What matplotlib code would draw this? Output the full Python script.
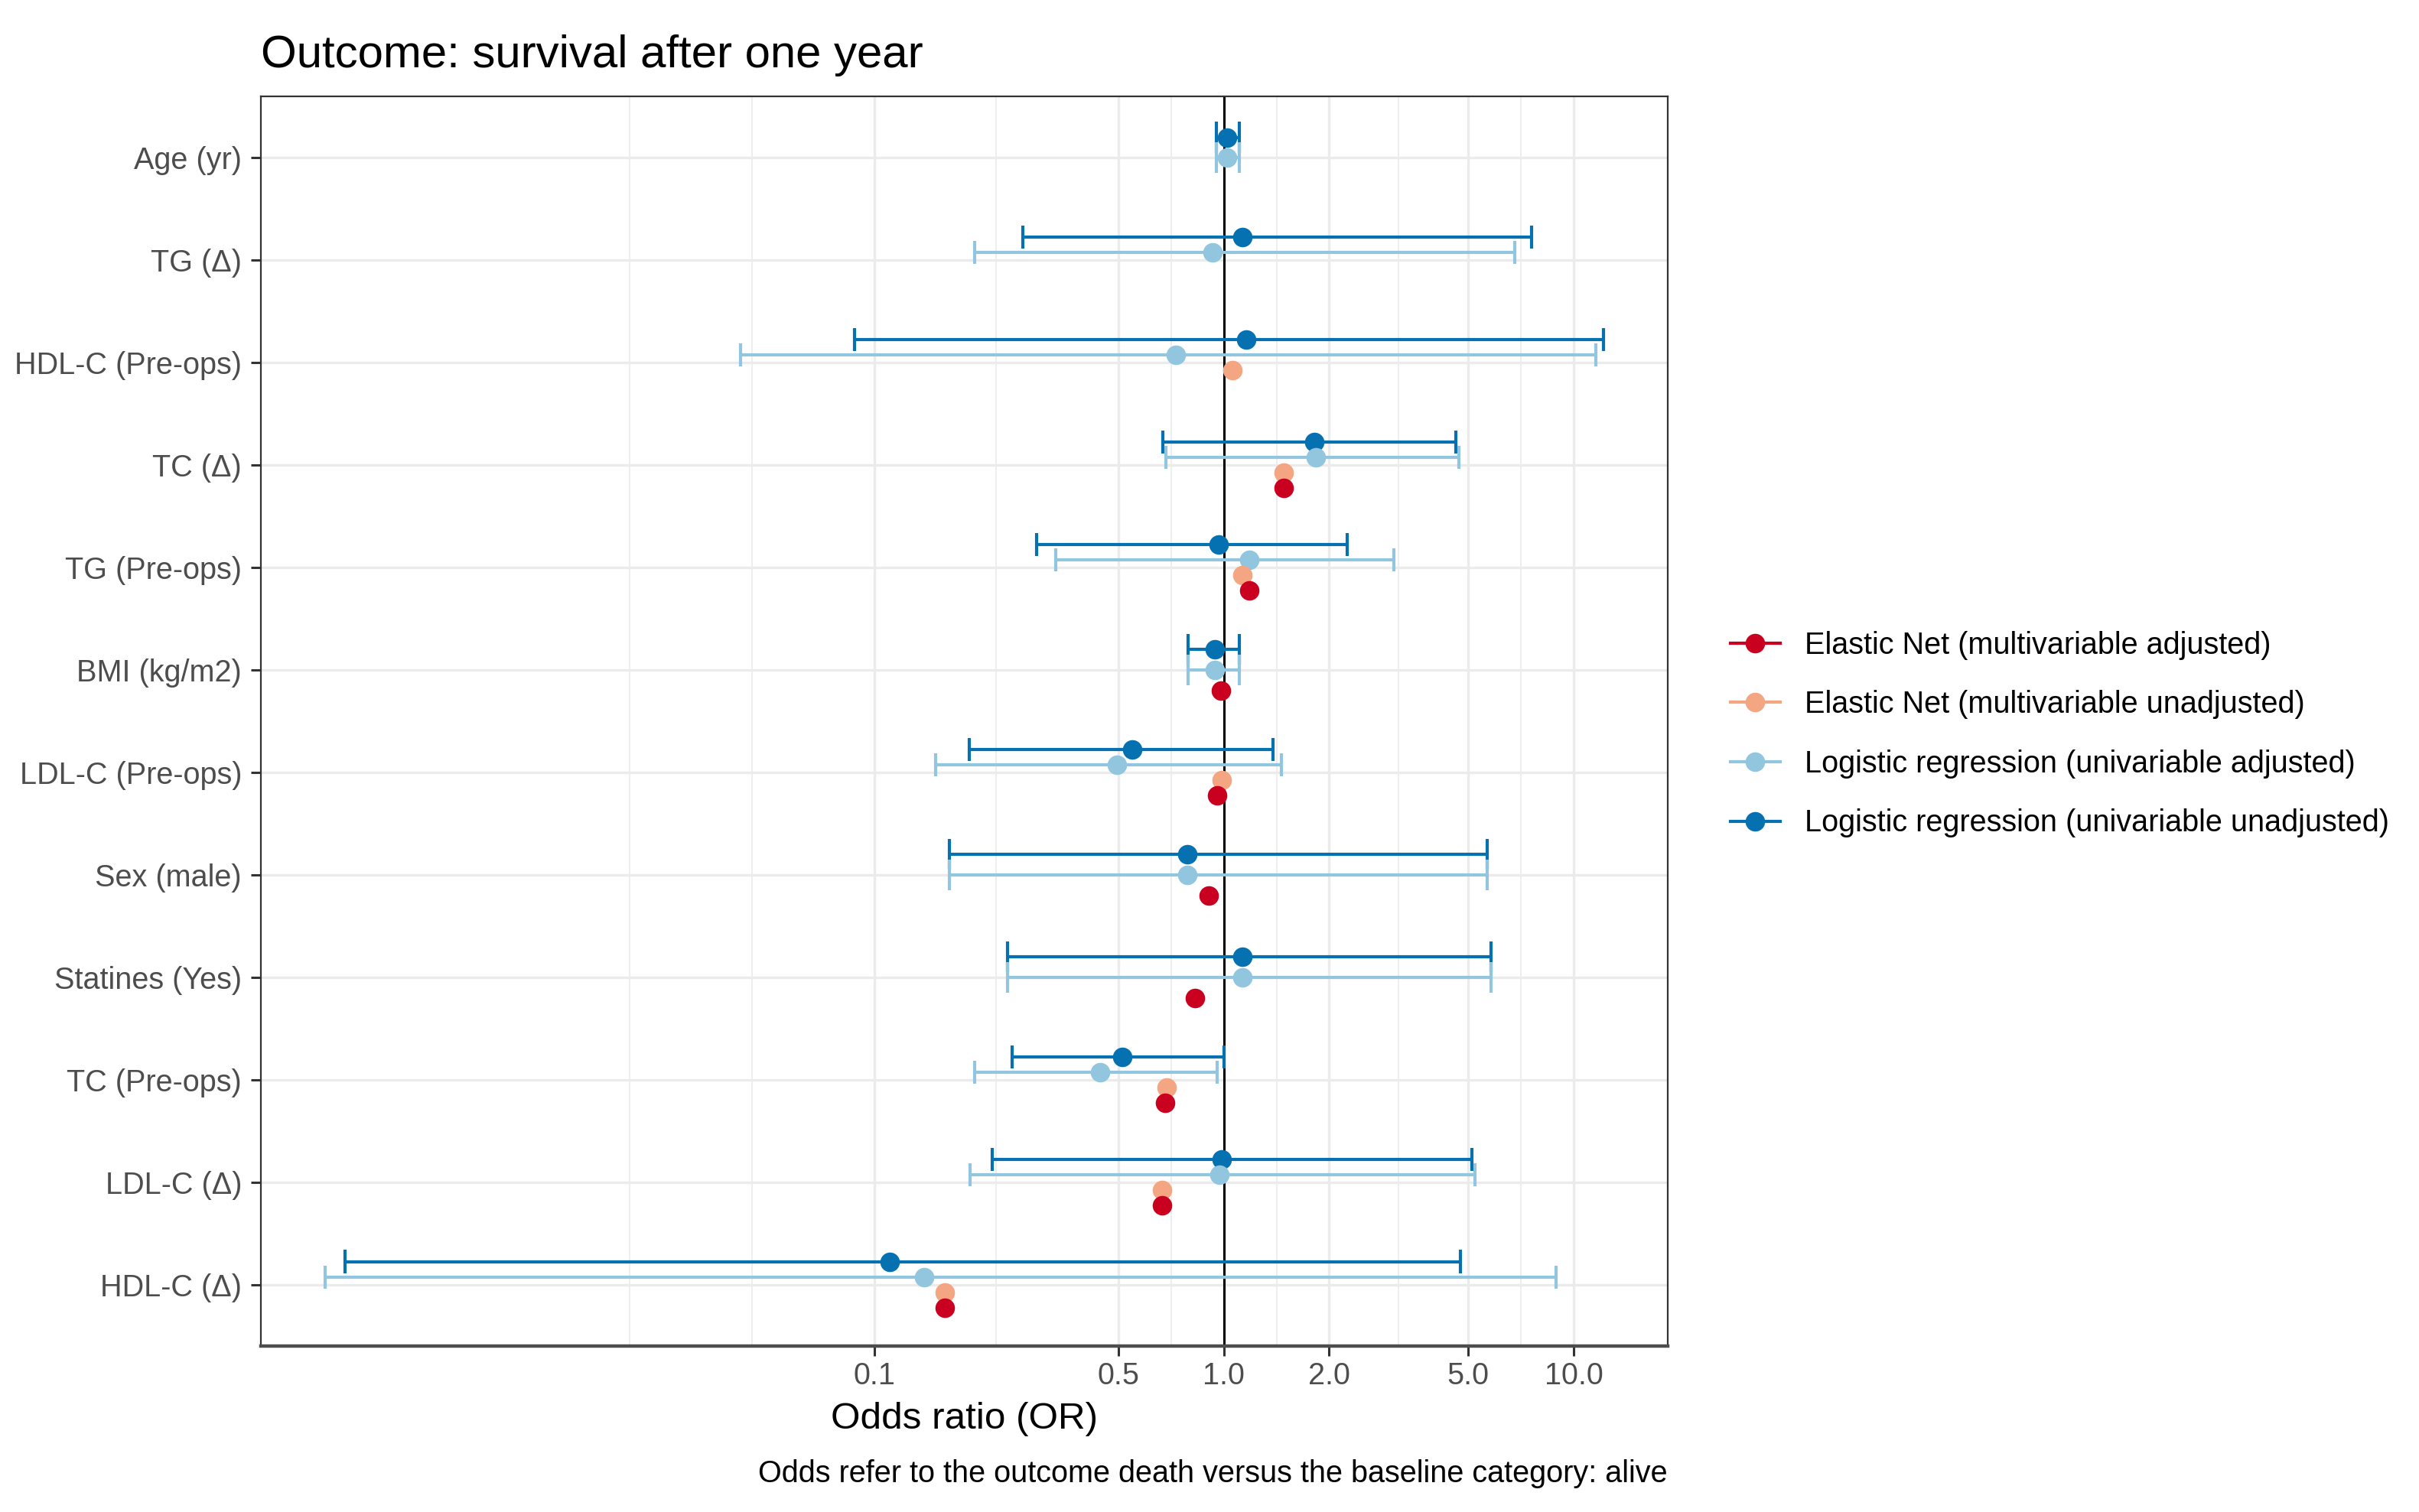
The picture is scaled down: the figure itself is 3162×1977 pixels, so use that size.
import numpy as np
import matplotlib
matplotlib.use("Agg")
import matplotlib.pyplot as plt
from matplotlib.lines import Line2D
from matplotlib.ticker import FixedLocator, NullFormatter

plt.rcParams['font.family'] = ['Liberation Sans', 'DejaVu Sans']

nan = np.nan

# variables, top to bottom
variables = ["Age (yr)", "TG (Δ)", "HDL-C (Pre-ops)", "TC (Δ)", "TG (Pre-ops)",
             "BMI (kg/m2)", "LDL-C (Pre-ops)", "Sex (male)", "Statines (Yes)",
             "TC (Pre-ops)", "LDL-C (Δ)", "HDL-C (Δ)"]

# Logistic regression (univariable unadjusted)
lu_or = [1.02, 1.13, 1.16, 1.81, 0.965, 0.945, 0.546, 0.787, 1.13, 0.512, 0.986, 0.111]
lu_lo = [0.95, 0.266, 0.088, 0.67, 0.292, 0.79, 0.187, 0.164, 0.241, 0.248, 0.218, 0.00307]
lu_hi = [1.11, 7.6, 12.2, 4.61, 2.25, 1.11, 1.38, 5.65, 5.81, 1.0, 5.12, 4.74]

# Logistic regression (univariable adjusted)
la_or = [1.02, 0.93, 0.73, 1.83, 1.18, 0.945, 0.495, 0.787, 1.13, 0.442, 0.972, 0.139]
la_lo = [0.95, 0.194, 0.0415, 0.684, 0.331, 0.79, 0.150, 0.164, 0.241, 0.194, 0.188, 0.00269]
la_hi = [1.11, 6.79, 11.57, 4.71, 3.06, 1.11, 1.46, 5.65, 5.81, 0.958, 5.23, 8.93]

# Elastic Net (None = no row for that variable, nan = row without estimate)
eu_or = [None, nan, 1.06, 1.48, 1.13, None, 0.986, None, None, 0.688, 0.665, 0.159]
ea_or = [nan, nan, nan, 1.48, 1.18, 0.98, 0.959, 0.906, 0.827, 0.679, 0.665, 0.159]

series_names = ["Logistic regression (univariable unadjusted)",
                "Logistic regression (univariable adjusted)",
                "Elastic Net (multivariable unadjusted)",
                "Elastic Net (multivariable adjusted)"]
series_colors = ["#0571B0", "#92C5DE", "#F4A582", "#CA0020"]

x_breaks = [0.1, 0.5, 1, 2, 5, 10]
x_labels = ["0.1", "0.5", "1.0", "2.0", "5.0", "10.0"]

series = [
    (lu_or, lu_lo, lu_hi),
    (la_or, la_lo, la_hi),
    (eu_or, None, None),
    (ea_or, None, None),
]

W, H = 3162, 1977
fig = plt.figure(figsize=(W / 200, H / 200), dpi=200)
ax = fig.add_axes([341 / W, 1 - 1760 / H, (2180 - 341) / W, (1760 - 126) / H])

dodge = 0.6
bar_w = 0.9
for i, var in enumerate(variables):
    present = [k for k in range(4) if series[k][0][i] is not None]
    n = len(present)
    for j, k in enumerate(present):
        est, lo, hi = series[k]
        y = i + (j - (n - 1) / 2) * dodge / n
        col = series_colors[k]
        if lo is not None and not np.isnan(lo[i]):
            ax.hlines(y, lo[i], hi[i], color=col, lw=1.5, zorder=2)
            ax.vlines([lo[i], hi[i]], y - bar_w / n / 2, y + bar_w / n / 2,
                      color=col, lw=1.5, zorder=2)
        if not np.isnan(est[i]):
            ax.plot(est[i], y, 'o', color=col, ms=9.2, mec='none', zorder=3)

ax.axvline(1, color='black', lw=1.1, zorder=1.5)

# x scale: log10 with 5% expansion as ggplot
all_lo = [v for v in lu_lo + la_lo]
all_hi = [v for v in lu_hi + la_hi]
lmin, lmax = np.log10(min(all_lo)), np.log10(max(all_hi))
pad = 0.05 * (lmax - lmin)
ax.set_xscale('log')
ax.set_xlim(10 ** (lmin - pad), 10 ** (lmax + pad))
ax.set_xticks(x_breaks)
ax.set_xticklabels(x_labels)

b = list(np.log10(x_breaks))
bd = b[1] - b[0]
b = [b[0] - bd] + b + [b[-1] + bd]
minor = []
for a, c in zip(b[:-1], b[1:]):
    minor += [a, (a + c) / 2]
minor = [m for m in minor if lmin - pad < m < lmax + pad and
         not np.any(np.isclose(m, np.log10(x_breaks)))]
ax.xaxis.set_minor_locator(FixedLocator([10 ** m for m in minor]))
ax.xaxis.set_minor_formatter(NullFormatter())

ax.set_ylim(len(variables) - 0.4, -0.6)
ax.set_yticks(range(len(variables)))
ax.set_yticklabels(variables)

ax.grid(which='major', color='#EBEBEB', lw=1.2, zorder=0)
ax.grid(which='minor', axis='x', color='#EBEBEB', lw=0.6, zorder=0)
ax.set_axisbelow(True)

for s in ax.spines.values():
    s.set_color('#333333')
    s.set_linewidth(0.8)
ax.spines['bottom'].set_linewidth(1.6)
ax.spines['bottom'].set_color('#4D4D4D')

ax.tick_params(which='major', length=4.7, width=1.1, color='#333333',
               labelcolor='#4D4D4D', labelsize=14.25)
ax.tick_params(axis='x', pad=2.5)
ax.tick_params(axis='y', pad=4.3)
ax.tick_params(which='minor', length=0)

fig.text(341 / W, 1 - 88 / H, "Outcome: survival after one year",
         fontsize=21.6, ha='left', va='baseline', color='black')
fig.text(1260 / W, 1 - 1868 / H, "Odds ratio (OR)",
         fontsize=17.8, ha='center', va='baseline', color='black')
fig.text(2180 / W, 1 - 1938 / H,
         "Odds refer to the outcome death versus the baseline category: alive",
         fontsize=14.25, ha='right', va='baseline', color='black')

legend_order = [3, 2, 1, 0]
handles = [Line2D([0], [0], color=series_colors[k], lw=1.5, marker='o', ms=9.2,
                  mec='none') for k in legend_order]
labels = [series_names[k] for k in legend_order]
fig.legend(handles, labels, loc='center left', bbox_to_anchor=(2262 / W, 1 - 960 / H),
           frameon=False, borderpad=0, borderaxespad=0, handlelength=1.64,
           handletextpad=0.8, labelspacing=1.0, fontsize=14.25)

fig.savefig('out.png', dpi=200)
